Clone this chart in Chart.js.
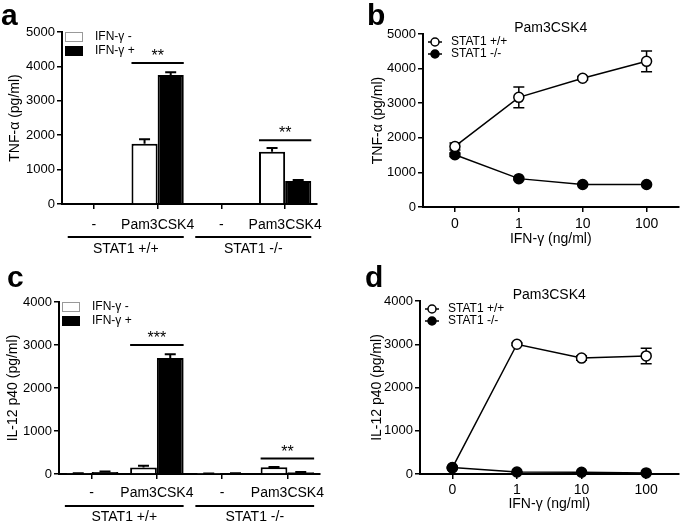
<!DOCTYPE html>
<html lang="en">
<head>
<meta charset="UTF-8">
<title>TNF-α and IL-12 p40 in STAT1 +/+ and -/- cells</title>
<script src="https://cdn.jsdelivr.net/npm/chart.js"></script>
<style>
  body { margin: 0; background: #fff; }
  #fig { position: relative; width: 685px; height: 523px; }
  #fig canvas { position: absolute; }
</style>
</head>
<body>
<div id="fig">
  <canvas id="panelA" width="340" height="255" style="left:0;top:0"></canvas>
  <canvas id="panelB" width="345" height="255" style="left:340px;top:0"></canvas>
  <canvas id="panelC" width="340" height="268" style="left:0;top:255px"></canvas>
  <canvas id="panelD" width="345" height="268" style="left:340px;top:255px"></canvas>
</div>

<script>
// bar panels (a, c)
const treatments = ['-', 'Pam3CSK4', '-', 'Pam3CSK4'];
const strains = ['STAT1 +/+', 'STAT1 -/-'];
const tnfNoIfn = [15, 1750, 15, 1520];
const tnfNoIfnErr = [0, 130, 0, 110];
const tnfIfn = [15, 3750, 15, 670];
const tnfIfnErr = [0, 80, 0, 25];
const il12NoIfn = [10, 150, 8, 155];
const il12NoIfnErr = [5, 40, 3, 10];
const il12Ifn = [45, 2700, 15, 40];
const il12IfnErr = [12, 85, 5, 8];
const tnfSig = [{ cat: 1, y: 4100, label: '**' }, { cat: 3, y: 1850, label: '**' }];
const il12Sig = [{ cat: 1, y: 3000, label: '***' }, { cat: 3, y: 360, label: '**' }];

// dose panels (b, d)
const doses = ['0', '1', '10', '100'];
const tnfWt = [1750, 3170, 3720, 4210];
const tnfWtErr = [100, 300, 50, 300];
const tnfKo = [1510, 820, 650, 650];
const tnfKoErr = [50, 30, 20, 20];
const il12Wt = [140, 3000, 2680, 2730];
const il12WtErr = [20, 30, 50, 180];
const il12Ko = [150, 45, 40, 25];
const il12KoErr = [10, 5, 5, 5];

Chart.defaults.font.family = "'Liberation Sans', Arial, sans-serif";
Chart.defaults.color = '#000';

function drawErrors(chart, both) {
    const ctx = chart.ctx;
    const y = chart.scales.y;
    chart.data.datasets.forEach((ds, i) => {
        if (!ds.errors) return;
        chart.getDatasetMeta(i).data.forEach((el, j) => {
            const e = ds.errors[j];
            if (!e) return;
            const v = ds.data[j];
            const top = y.getPixelForValue(v + e);
            const bot = both ? y.getPixelForValue(v - e) : el.y;
            ctx.save();
            ctx.strokeStyle = '#000';
            ctx.lineWidth = both ? 1.5 : 2;
            ctx.beginPath();
            ctx.moveTo(el.x, top);
            ctx.lineTo(el.x, bot);
            ctx.moveTo(el.x - 5.5, top);
            ctx.lineTo(el.x + 5.5, top);
            if (both) {
                ctx.moveTo(el.x - 5.5, bot);
                ctx.lineTo(el.x + 5.5, bot);
            }
            ctx.stroke();
            ctx.restore();
        });
    });
}

const extras = {
    id: 'extras',
    beforeDatasetsDraw(chart, args, o) {
        if (o.kind === 'line') drawErrors(chart, true);
    },
    afterDatasetsDraw(chart, args, o) {
        if (o.kind === 'bar') drawErrors(chart, false);
    },
    afterDraw(chart, args, o) {
        const ctx = chart.ctx;
        const area = chart.chartArea;
        const y = chart.scales.y;
        ctx.save();
        ctx.fillStyle = '#000';
        ctx.strokeStyle = '#000';

        // panel letter
        ctx.font = "bold 30px 'Liberation Sans', Arial, sans-serif";
        ctx.textAlign = 'left';
        ctx.textBaseline = 'alphabetic';
        ctx.fillText(o.letter, o.letterX, o.letterY);

        if (o.kind === 'bar') {
            const m0 = chart.getDatasetMeta(0).data;
            const m1 = chart.getDatasetMeta(1).data;

            // significance bars
            ctx.lineWidth = 2;
            ctx.font = "16px 'Liberation Sans', Arial, sans-serif";
            ctx.textAlign = 'center';
            o.sig.forEach(s => {
                const x0 = m0[s.cat].x - m0[s.cat].width / 2;
                const x1 = m1[s.cat].x + m1[s.cat].width / 2;
                const yy = y.getPixelForValue(s.y);
                ctx.beginPath();
                ctx.moveTo(x0, yy);
                ctx.lineTo(x1, yy);
                ctx.stroke();
                ctx.fillText(s.label, (x0 + x1) / 2, yy - 2);
            });

            // strain groups under the axis
            ctx.font = "14px 'Liberation Sans', Arial, sans-serif";
            ctx.textBaseline = 'middle';
            strains.forEach((g, k) => {
                const x0 = m0[2 * k].x - m0[2 * k].width / 2;
                const x1 = m1[2 * k + 1].x + m1[2 * k + 1].width / 2;
                const ly = area.bottom + o.groupLine;
                ctx.beginPath();
                ctx.moveTo(x0, ly);
                ctx.lineTo(x1, ly);
                ctx.stroke();
                ctx.fillText(g, (x0 + x1) / 2, area.bottom + o.groupLabel);
            });

            // legend
            ctx.font = "12px 'Liberation Sans', Arial, sans-serif";
            ctx.textAlign = 'left';
            chart.data.datasets.forEach((ds, i) => {
                const ry = area.top + 5 + i * 14;
                ctx.fillStyle = ds.backgroundColor;
                ctx.fillRect(area.left + 3, ry - 5, 18, 10);
                ctx.lineWidth = 1;
                ctx.strokeStyle = i === 0 ? '#999' : '#000';
                ctx.strokeRect(area.left + 3.5, ry - 4.5, 17, 9);
                ctx.fillStyle = '#000';
                ctx.fillText(ds.label, area.left + 33, ry);
            });
        } else {
            // stimulus title
            ctx.font = "14px 'Liberation Sans', Arial, sans-serif";
            ctx.textAlign = 'center';
            ctx.textBaseline = 'middle';
            ctx.fillText(o.title, (area.left + area.right) / 2, area.top - 6);

            // legend
            ctx.font = "12px 'Liberation Sans', Arial, sans-serif";
            ctx.textAlign = 'left';
            o.legendOrder.forEach((i, r) => {
                const ds = chart.data.datasets[i];
                const ry = area.top + 8 + r * 12;
                ctx.lineWidth = 1.5;
                ctx.strokeStyle = '#000';
                ctx.beginPath();
                ctx.moveTo(area.left + 5, ry);
                ctx.lineTo(area.left + 19, ry);
                ctx.stroke();
                ctx.beginPath();
                ctx.arc(area.left + 12, ry, 4, 0, Math.PI * 2);
                ctx.fillStyle = ds.pointBackgroundColor;
                ctx.fill();
                ctx.stroke();
                ctx.fillStyle = '#000';
                ctx.fillText(ds.label, area.left + 28, ry);
            });
        }
        ctx.restore();
    }
};

function axisGrid() {
    return { drawOnChartArea: false, drawTicks: true, tickLength: 5, color: '#000', lineWidth: 1.5 };
}

const plainNumber = v => String(v);

function barPanel(id, p) {
    return new Chart(document.getElementById(id), {
        type: 'bar',
        data: {
            labels: treatments,
            datasets: [
                { label: 'IFN-γ -', data: p.minus, errors: p.minusErr, backgroundColor: '#fff',
                  borderColor: '#000', borderWidth: 2, categoryPercentage: 0.82, barPercentage: 1 },
                { label: 'IFN-γ +', data: p.plus, errors: p.plusErr, backgroundColor: '#000',
                  borderColor: '#000', borderWidth: 2, categoryPercentage: 0.82, barPercentage: 1 }
            ]
        },
        options: {
            responsive: false,
            animation: false,
            layout: { padding: { top: p.top, right: p.right, left: 0, bottom: 0 } },
            plugins: {
                legend: { display: false },
                tooltip: { enabled: false },
                extras: { kind: 'bar', letter: p.letter, letterX: p.letterX, letterY: p.letterY,
                          sig: p.sig, groupLine: p.groupLine, groupLabel: p.groupLabel }
            },
            scales: {
                x: {
                    offset: true,
                    grid: Object.assign(axisGrid(), { offset: false }),
                    border: { color: '#000', width: 2 },
                    ticks: { font: { size: 14 }, padding: p.xPad, maxRotation: 0, autoSkip: false },
                    afterFit: s => { s.height = p.xH; }
                },
                y: {
                    min: 0,
                    max: p.max,
                    grid: axisGrid(),
                    border: { color: '#000', width: 2 },
                    ticks: { stepSize: 1000, font: { size: 13 }, padding: 2, callback: plainNumber },
                    title: { display: true, text: p.yTitle, font: { size: 14 }, padding: { top: p.yTitlePad, bottom: 0 } },
                    afterFit: s => { s.width = p.yW; }
                }
            }
        },
        plugins: [extras]
    });
}

function dosePanel(id, p) {
    const point = (fill) => ({
        borderColor: '#000', borderWidth: 1.5, pointRadius: 5, pointBorderWidth: 1.5,
        pointBackgroundColor: fill, pointBorderColor: '#000', tension: 0, fill: false, clip: false
    });
    return new Chart(document.getElementById(id), {
        type: 'line',
        data: {
            labels: doses,
            datasets: [
                Object.assign({ label: 'STAT1 +/+', data: p.wt, errors: p.wtErr, order: p.wtOrder }, point('#fff')),
                Object.assign({ label: 'STAT1 -/-', data: p.ko, errors: p.koErr, order: 0 }, point('#000'))
            ]
        },
        options: {
            responsive: false,
            animation: false,
            layout: { padding: { top: p.top, right: 3, left: 0, bottom: 0 } },
            plugins: {
                legend: { display: false },
                tooltip: { enabled: false },
                extras: { kind: 'line', letter: p.letter, letterX: p.letterX, letterY: p.letterY,
                          title: 'Pam3CSK4', legendOrder: [0, 1] }
            },
            scales: {
                x: {
                    offset: true,
                    grid: Object.assign(axisGrid(), { offset: false }),
                    border: { color: '#000', width: 2 },
                    ticks: { font: { size: 14 }, padding: p.xPad, maxRotation: 0, autoSkip: false },
                    title: { display: true, text: 'IFN-γ (ng/ml)', font: { size: 14 }, padding: { top: 0, bottom: p.xTitlePad } },
                    afterFit: s => { s.height = p.xH; }
                },
                y: {
                    min: 0,
                    max: p.max,
                    grid: axisGrid(),
                    border: { color: '#000', width: 2 },
                    ticks: { stepSize: 1000, font: { size: 13 }, padding: 2, callback: plainNumber },
                    title: { display: true, text: p.yTitle, font: { size: 14 }, padding: { top: p.yTitlePad, bottom: 0 } },
                    afterFit: s => { s.width = p.yW; }
                }
            }
        },
        plugins: [extras]
    });
}

barPanel('panelA', {
    minus: tnfNoIfn, minusErr: tnfNoIfnErr, plus: tnfIfn, plusErr: tnfIfnErr, sig: tnfSig,
    max: 5000, yTitle: 'TNF-α (pg/ml)', letter: 'a', letterX: 1, letterY: 25,
    top: 32, right: 23, yW: 62, xH: 51, xPad: 8, yTitlePad: 7, groupLine: 33, groupLabel: 45
});

dosePanel('panelB', {
    wt: tnfWt, wtErr: tnfWtErr, ko: tnfKo, koErr: tnfKoErr, wtOrder: 0,
    max: 5000, yTitle: 'TNF-α (pg/ml)', letter: 'b', letterX: 27, letterY: 25,
    top: 34, yW: 83, xH: 48, xPad: 4, xTitlePad: 7, yTitlePad: 30
});

barPanel('panelC', {
    minus: il12NoIfn, minusErr: il12NoIfnErr, plus: il12Ifn, plusErr: il12IfnErr, sig: il12Sig,
    max: 4000, yTitle: 'IL-12 p40 (pg/ml)', letter: 'c', letterX: 7, letterY: 32,
    top: 47, right: 20, yW: 59, xH: 49, xPad: 6, yTitlePad: 5, groupLine: 32, groupLabel: 43
});

dosePanel('panelD', {
    wt: il12Wt, wtErr: il12WtErr, ko: il12Ko, koErr: il12KoErr, wtOrder: 1,
    max: 4000, yTitle: 'IL-12 p40 (pg/ml)', letter: 'd', letterX: 25, letterY: 32,
    top: 46, yW: 80, xH: 49, xPad: 3, xTitlePad: 10, yTitlePad: 29
});
</script>
</body>
</html>
